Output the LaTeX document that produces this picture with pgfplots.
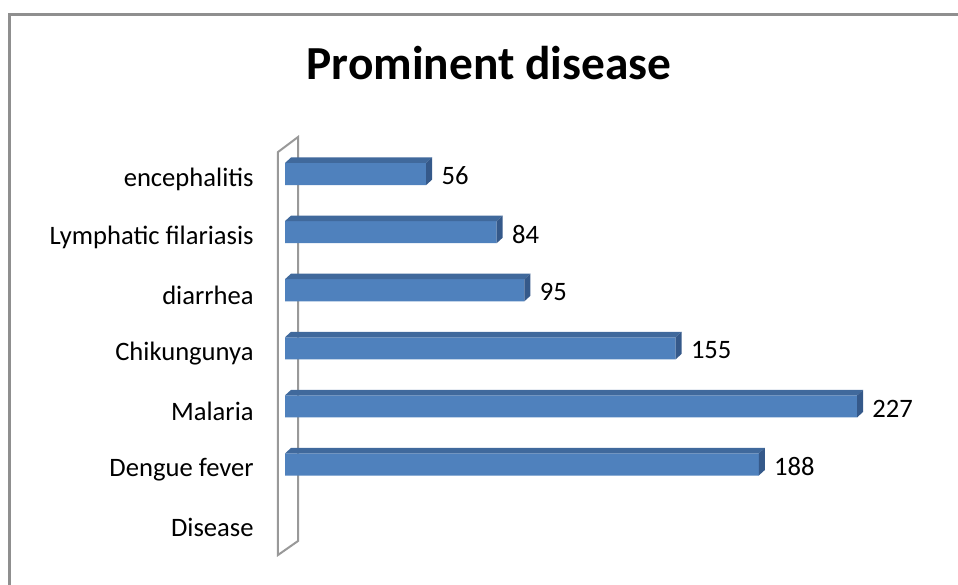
\documentclass[border=0pt]{standalone}
\usepackage{pgfplots}
\pgfplotsset{compat=1.18}
\usepackage{fontspec}
\setmainfont{Carlito}
\definecolor{barfront}{HTML}{4F81BD}
\definecolor{bartop}{HTML}{40699C}
\definecolor{barside}{HTML}{35598A}
\definecolor{wallc}{HTML}{999999}
\definecolor{framec}{HTML}{8F8F8F}
\begin{document}
\begin{tikzpicture}
\path[use as bounding box] (0,0) rectangle (479pt,-292pt);
\draw[framec, line width=1.3pt] (4.75pt,-295pt) -- (4.75pt,-7.35pt) -- (482pt,-7.35pt);
\node[anchor=base, font=\fontsize{23.7}{28}\selectfont\bfseries] at (244.5pt,-39.6pt) {Prominent disease};
\begin{axis}[
  at={(142.5pt,-277.5pt)}, anchor=south west,
  scale only axis, width=315pt, height=201.5pt,
  xmin=0, xmax=250, ymin=-0.558, ymax=6.379,
  clip=false,
  axis line style={draw=none},
  major tick length=0pt,
  xtick=\empty,
  ytick={0,1,2,3,4,5,6},
  yticklabels={Disease,Dengue fever,Malaria,Chikungunya,diarrhea,Lymphatic filariasis,encephalitis},
  yticklabel style={inner sep=0pt, anchor=east, xshift=-15.5pt, yshift=-2.5pt, font=\fontsize{13.3}{16}\selectfont},
  /pgf/number format/assume math mode=true,
  xbar, bar width=0.38,
]
% wall
\draw[wallc, line width=1pt, fill=white] (axis cs:-2.78,-0.558) -- (axis cs:-2.78,6.379) -- (axis cs:5.16,6.637) -- (axis cs:5.16,-0.317) -- cycle;
\addplot[fill=barfront, draw=none,
  nodes near coords,
  every node near coord/.append style={anchor=west, inner sep=0pt, xshift=7.5pt, yshift=-1pt, font=\fontsize{13.3}{16}\selectfont, text=black}]
  coordinates {(188,1) (227,2) (155,3) (95,4) (84,5) (56,6)};
% top faces
\addplot[draw=none, fill=bartop, forget plot, sharp plot] coordinates {(0,1.19) (188,1.19) (190.4,1.285) (2.4,1.285)};
\addplot[draw=none, fill=bartop, forget plot, sharp plot] coordinates {(0,2.19) (227,2.19) (229.4,2.285) (2.4,2.285)};
\addplot[draw=none, fill=bartop, forget plot, sharp plot] coordinates {(0,3.19) (155,3.19) (157.4,3.285) (2.4,3.285)};
\addplot[draw=none, fill=bartop, forget plot, sharp plot] coordinates {(0,4.19) (95,4.19) (97.4,4.285) (2.4,4.285)};
\addplot[draw=none, fill=bartop, forget plot, sharp plot] coordinates {(0,5.19) (84,5.19) (86.4,5.285) (2.4,5.285)};
\addplot[draw=none, fill=bartop, forget plot, sharp plot] coordinates {(0,6.19) (56,6.19) (58.4,6.285) (2.4,6.285)};
% side faces
\addplot[draw=none, fill=barside, forget plot, sharp plot] coordinates {(188,0.81) (188,1.19) (190.4,1.285) (190.4,0.905)};
\addplot[draw=none, fill=barside, forget plot, sharp plot] coordinates {(227,1.81) (227,2.19) (229.4,2.285) (229.4,1.905)};
\addplot[draw=none, fill=barside, forget plot, sharp plot] coordinates {(155,2.81) (155,3.19) (157.4,3.285) (157.4,2.905)};
\addplot[draw=none, fill=barside, forget plot, sharp plot] coordinates {(95,3.81) (95,4.19) (97.4,4.285) (97.4,3.905)};
\addplot[draw=none, fill=barside, forget plot, sharp plot] coordinates {(84,4.81) (84,5.19) (86.4,5.285) (86.4,4.905)};
\addplot[draw=none, fill=barside, forget plot, sharp plot] coordinates {(56,5.81) (56,6.19) (58.4,6.285) (58.4,5.905)};
\end{axis}
\end{tikzpicture}
\end{document}
